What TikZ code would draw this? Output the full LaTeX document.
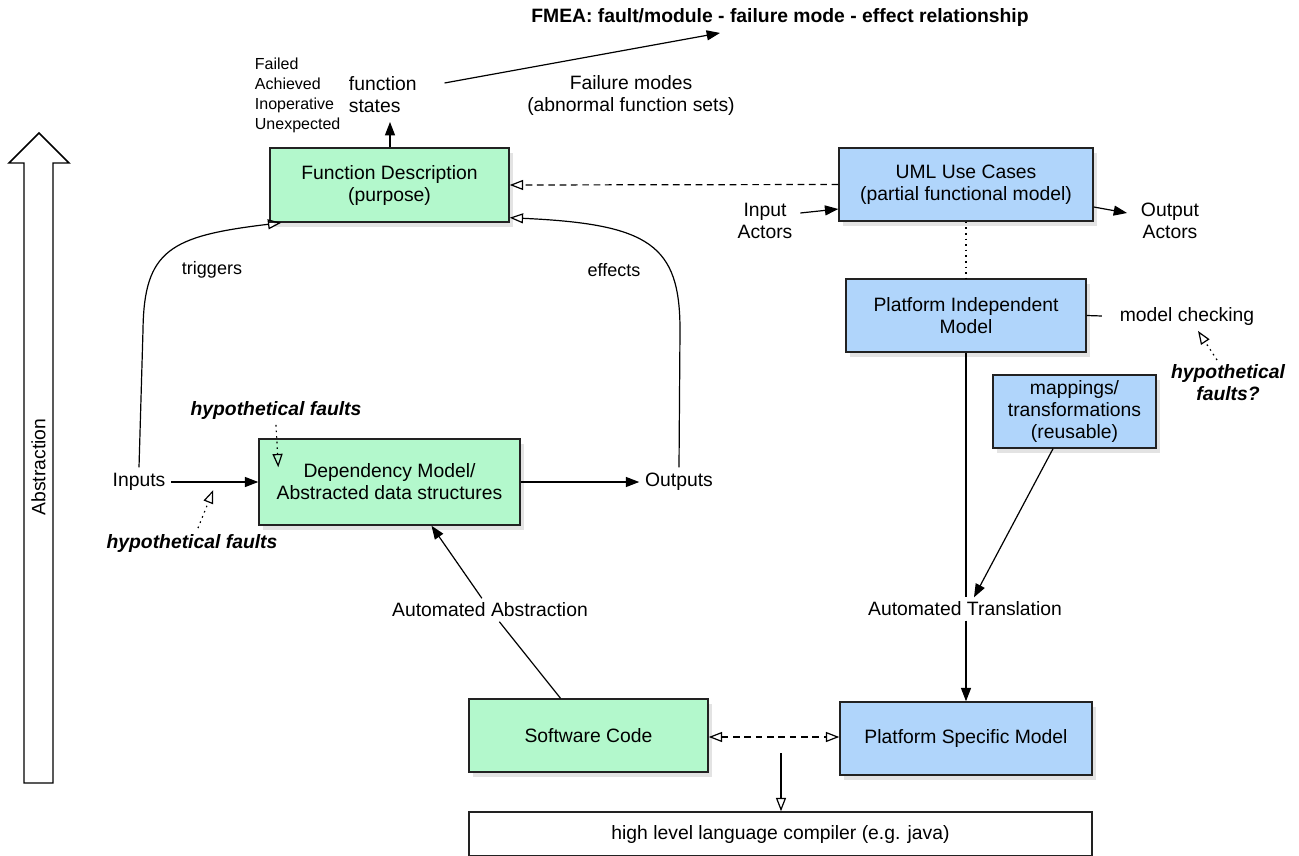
\documentclass[tikz,border=0pt]{standalone}
\usepackage{fontspec}
\setmainfont{Liberation Sans}
\usetikzlibrary{arrows.meta,shadows,calc}
\definecolor{gfill}{HTML}{B3F8CC}
\definecolor{bfill}{HTML}{B0D5FB}
\definecolor{edge}{HTML}{222222}
\begin{document}
\begin{tikzpicture}[x=0.75pt,y=-0.75pt,
  font=\fontsize{14.5}{16.5}\selectfont, line width=0.9pt,
  box/.style={draw=edge, line width=1.1pt, align=center, inner sep=2pt,
    drop shadow={shadow xshift=3pt, shadow yshift=-3.5pt, opacity=0.22}},
  gbox/.style={box, fill=gfill},
  bbox/.style={box, fill=bfill},
  lbl/.style={align=center, inner sep=4pt},
  hyp/.style={lbl, font=\fontsize{14.5}{16.5}\selectfont\bfseries\itshape},
  fa/.style={-{Triangle[length=10pt,width=7.5pt]}},
  oa/.style={-{Triangle[open,length=10pt,width=7.5pt]}},
  dsh/.style={dash pattern=on 5pt off 3.5pt},
  dotl/.style={dash pattern=on 1.2pt off 3pt}]
\fill[white] (0,0) rectangle (1299,856);
\useasboundingbox (0,0) rectangle (1299,856);

% Abstraction arrow
\draw[line width=1.1pt, fill=white] (24,783) -- (24,163) -- (9,163) -- (39,133) -- (69,163) -- (53,163) -- (53,783) -- cycle;
\node[rotate=90] (abs) at (38.5,467) {Abstraction};

% boxes
\node[gbox, minimum width=179.25pt, minimum height=55.5pt] (fd) at (389.5,185) {Function Description\\(purpose)};
\node[bbox, minimum width=190.5pt, minimum height=54.75pt] (uml) at (966,184.5) {UML Use Cases\\(partial functional model)};
\node[bbox, minimum width=180pt, minimum height=54.75pt] (pim) at (966,315.5) {Platform Independent\\Model};
\node[bbox, minimum width=122.25pt, minimum height=54.75pt] (map) at (1074.5,411.5) {mappings/\\transformations\\(reusable)};
\node[gbox, minimum width=195.75pt, minimum height=64.5pt] (dep) at (389.5,482) {Dependency Model/\\Abstracted data structures};
\node[gbox, minimum width=179.25pt, minimum height=54.75pt] (sw) at (588.5,735.5) {Software Code};
\node[bbox, minimum width=189pt, minimum height=54.75pt] (psm) at (966,738.5) {Platform Specific Model};
\node[draw=edge, line width=1.1pt, fill=white, minimum width=467.25pt, minimum height=33pt] (comp) at (780.5,834) {high level language compiler (e.g. java)};

% labels
\node[lbl, font=\fontsize{14.5}{16.5}\selectfont\bfseries] (fmea) at (780,18) {FMEA: fault/module - failure mode - effect relationship};
\node[lbl, anchor=west, align=left, font=\fontsize{12}{15}\selectfont] (fstat) at (249,95) {Failed\\Achieved\\Inoperative\\Unexpected};
\node[lbl, anchor=west, align=left] (fs) at (343,95) {function\\states};
\node[lbl] (fm) at (631,95) {Failure modes\\(abnormal function sets)};
\node[lbl] (inact) at (765,221) {Input\\Actors};
\node[lbl] (outact) at (1170,221) {Output\\Actors};
\node[lbl] (mc) at (1187,316) {model checking};
\node[hyp] (hq) at (1228,383) {hypothetical\\faults?};
\node[lbl, font=\fontsize{13.5}{16}\selectfont] (trg) at (212,270) {triggers};
\node[lbl, font=\fontsize{13.5}{16}\selectfont] (eff) at (614,270) {effects};
\node[hyp] (hf1) at (276,410) {hypothetical faults};
\node[hyp] (hf2) at (192,543) {hypothetical faults};
\node[lbl] (inp) at (139,482) {Inputs};
\node[lbl] (outp) at (679,482) {Outputs};
\node[lbl, fill=white, inner sep=3pt] (atr) at (965,609) {Automated Translation};
\node[lbl, fill=white, inner sep=3pt] (aab) at (490,610) {Automated Abstraction};

% coordinates
\coordinate (fsin) at (390,122);
\coordinate (cdown) at (781,753);

% connectors
\draw[fa] (fd.north -| fsin) -- (fsin);
\draw[fa] ($(fs.east)+(22,-12)$) -- ($(fmea.south)+(-60,0)$);
\draw[oa, dsh] (uml.west) -- (fd.east);
\draw[fa] ($(inact.east)+(2,-8)$) -- ($(uml.west)+(0,24.5)$);
\draw[fa] ($(uml.east)+(0,22.5)$) -- ($(outact.west)+(-8,-8)$);
\draw[dotl] (uml.south) -- (pim.north);
\draw (pim.east) -- ([xshift=-9pt]mc.west);
\draw[oa, dotl] ($(hq.north)+(-11,1)$) -- ($(mc.south)+(11,0)$);
\draw (pim.south) -- (atr.north -| pim.south);
\draw[fa] (atr.south -| psm.north) -- (psm.north);
\draw[fa] ($(map.south)+(-21.5,0)$) -- ($(atr.north)+(9,0)$);
\draw[oa] (inp.north) -- (143,330) .. controls (144,250) and (170,236) .. ($(fd.south west)+(12,0)$);
\draw[oa] (outp.north) -- (680,330) .. controls (680,245) and (650,224) .. ($(fd.south east)+(0,-5)$);
\draw[fa] (inp.east) -- (dep.west);
\draw[fa] (dep.east) -- (outp.west);
\draw[oa, dotl] (hf1.south) -- ($(dep.north west)+(20,29)$);
\draw[oa, dotl] ($(hf2.north)+(6,0)$) -- ($(dep.west)+(-45,8)$);
\draw ($(sw.north)+(-28,0)$) -- (aab);
\draw[fa] (aab) -- ($(dep.south)+(42,0)$);
\draw[{Triangle[open,length=10pt,width=7.5pt]}-{Triangle[open,length=10pt,width=7.5pt]}, dsh] ($(sw.east)+(0,1.5)$) -- ($(psm.west)+(0,-1.5)$);
\draw[oa] (cdown) -- (comp.north -| cdown);
\end{tikzpicture}
\end{document}
